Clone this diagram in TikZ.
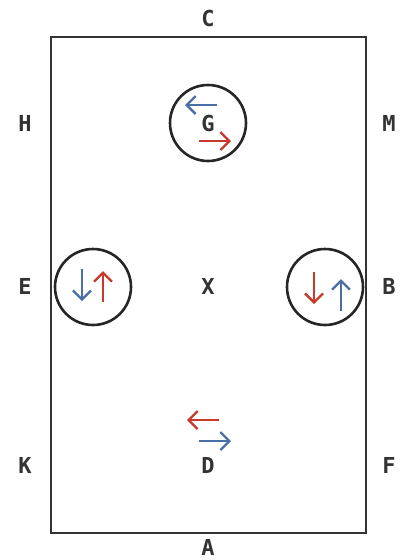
\documentclass[tikz,border=0pt]{standalone}
\usepackage{fontspec}
\newfontfamily\lblfont{DejaVu Sans Mono Bold}
\usetikzlibrary{arrows.meta}
\definecolor{rblue}{HTML}{4A6FA8}
\definecolor{rred}{HTML}{C9392B}
\definecolor{rframe}{HTML}{333333}
\begin{document}
\begin{tikzpicture}[x=1pt,y=-1pt,
  lbl/.style={font=\lblfont\fontsize{22}{22}\selectfont, text=rframe, inner sep=0pt},
  ring/.style={circle, draw=black!85, line width=2.6pt, minimum size=76pt, inner sep=0pt},
  flow/.style={line width=2.3pt, -{Straight Barb[length=9pt,width=18pt,line width=2.3pt]}},
  bflow/.style={flow, draw=rblue},
  rflow/.style={flow, draw=rred}]
\useasboundingbox (0,0) rectangle (401,560);
\draw[rframe, line width=1.3pt] (51,37) rectangle (366,533);
\node[ring] (cg) at (208,123) {};
\node[ring] (ce) at (93,287) {};
\node[ring] (cb) at (325,287) {};
\node[lbl] (C) at (208,18) {C};
\node[lbl] (H) at (25,123) {H};
\node[lbl] (M) at (389,123) {M};
\node[lbl] (G) at (208,123) {G};
\node[lbl] (E) at (25,286) {E};
\node[lbl] (X) at (208,286) {X};
\node[lbl] (B) at (389,286) {B};
\node[lbl] (K) at (25,465) {K};
\node[lbl] (D) at (208,465) {D};
\node[lbl] (F) at (389,465) {F};
\node[lbl] (A) at (208,547) {A};
% G arrows
\coordinate (g1s) at (217,105); \coordinate (g1e) at (185,105);
\coordinate (g2s) at (199,141); \coordinate (g2e) at (231,141);
\draw[bflow] (g1s) -- (g1e);
\draw[rflow] (g2s) -- (g2e);
% E arrows
\coordinate (e1s) at (82,269); \coordinate (e1e) at (82,301);
\coordinate (e2s) at (103,302); \coordinate (e2e) at (103,271);
\draw[bflow] (e1s) -- (e1e);
\draw[rflow] (e2s) -- (e2e);
% B arrows
\coordinate (b1s) at (314,272); \coordinate (b1e) at (314,304);
\coordinate (b2s) at (341,311); \coordinate (b2e) at (341,279);
\draw[rflow] (b1s) -- (b1e);
\draw[bflow] (b2s) -- (b2e);
% D arrows
\coordinate (d1s) at (219,420); \coordinate (d1e) at (187,420);
\coordinate (d2s) at (199,441); \coordinate (d2e) at (231,441);
\draw[rflow] (d1s) -- (d1e);
\draw[bflow] (d2s) -- (d2e);
\end{tikzpicture}
\end{document}
